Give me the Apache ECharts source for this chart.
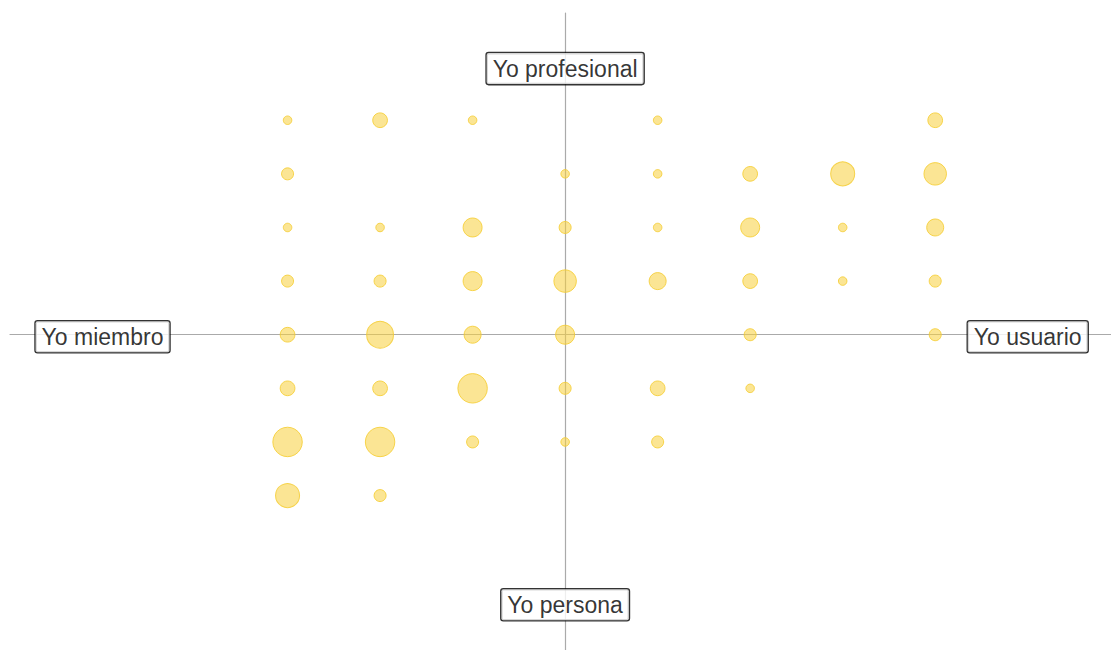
<!DOCTYPE html>
<html>
<head>
<meta charset="utf-8">
<script src="https://cdn.jsdelivr.net/npm/echarts@6/dist/echarts.min.js"></script>
<style>
  html, body { margin: 0; padding: 0; background: #fff; }
  #chart { width: 1111px; height: 650px; }
</style>
</head>
<body>
<div id="chart"></div>
<script>
// bubble positions (x, y) and counts
const xs = [-3, -2, -1, 1, 4,
  -3, 0, 1, 2, 3, 4,
  -3, -2, -1, 0, 1, 2, 3, 4,
  -3, -2, -1, 0, 1, 2, 3, 4,
  -3, -2, -1, 0, 2, 4,
  -3, -2, -1, 0, 1, 2,
  -3, -2, -1, 0, 1,
  -3, -2]
const ys = [4, 4, 4, 4, 4,
  3, 3, 3, 3, 3, 3,
  2, 2, 2, 2, 2, 2, 2, 2,
  1, 1, 1, 1, 1, 1, 1, 1,
  0, 0, 0, 0, 0, 0,
  -1, -1, -1, -1, -1, -1,
  -2, -2, -2, -2, -2,
  -3, -3]
const counts = [1, 3, 1, 1, 3,
  2, 1, 1, 3, 8, 7,
  1, 1, 5, 2, 1, 5, 1, 4,
  2, 2, 5, 7, 4, 3, 1, 2,
  3, 10, 4, 5, 2, 2,
  3, 3, 12, 2, 3, 1,
  12, 12, 2, 1, 2,
  8, 2]

// pole labels
const poleNames = ['Yo miembro', 'Yo usuario', 'Yo profesional', 'Yo persona']
const poleX = [-5, 5, 0, 0]
const poleY = [0, 0, 5, -5]

const chart = echarts.init(document.getElementById('chart'), null, { renderer: 'svg' })

const bubbleData = xs.map((x, i) => [x, ys[i], counts[i]])
const poleData = poleNames.map((n, i) => ({ name: n, value: [poleX[i], poleY[i]] }))

const axisLine = { show: true, onZero: true, lineStyle: { color: '#aaaaaa', width: 1.2 } }

const option = {
  animation: false,
  grid: { left: 10, width: 1101, top: 13, height: 637 },
  xAxis: {
    type: 'value', min: -6, max: 5.9,
    axisLine: axisLine,
    axisTick: { show: false },
    axisLabel: { show: false },
    splitLine: { show: false }
  },
  yAxis: {
    type: 'value', min: -5.88, max: 6,
    axisLine: axisLine,
    axisTick: { show: false },
    axisLabel: { show: false },
    splitLine: { show: false }
  },
  series: [
    {
      type: 'scatter',
      data: bubbleData,
      symbolSize: (v) => 8.5 * Math.sqrt(v[2]),
      itemStyle: {
        color: 'rgba(247, 208, 60, 0.55)',
        borderColor: 'rgba(245, 205, 50, 0.85)',
        borderWidth: 1,
        opacity: 1
      },
      z: 2
    },
    {
      type: 'scatter',
      data: poleData,
      symbolSize: 0,
      silent: true,
      z: 5,
      label: {
        show: true,
        position: 'inside',
        offset: [0, 2],
        formatter: (p) => p.name,
        color: '#000',
        fontFamily: 'Liberation Sans, Arial, sans-serif',
        fontSize: 23,
        backgroundColor: '#fff',
        borderColor: '#000',
        borderWidth: 1.3,
        borderRadius: 2,
        padding: [5, 6, 3, 6]
      }
    }
  ]
}
chart.setOption(option)
</script>
</body>
</html>
